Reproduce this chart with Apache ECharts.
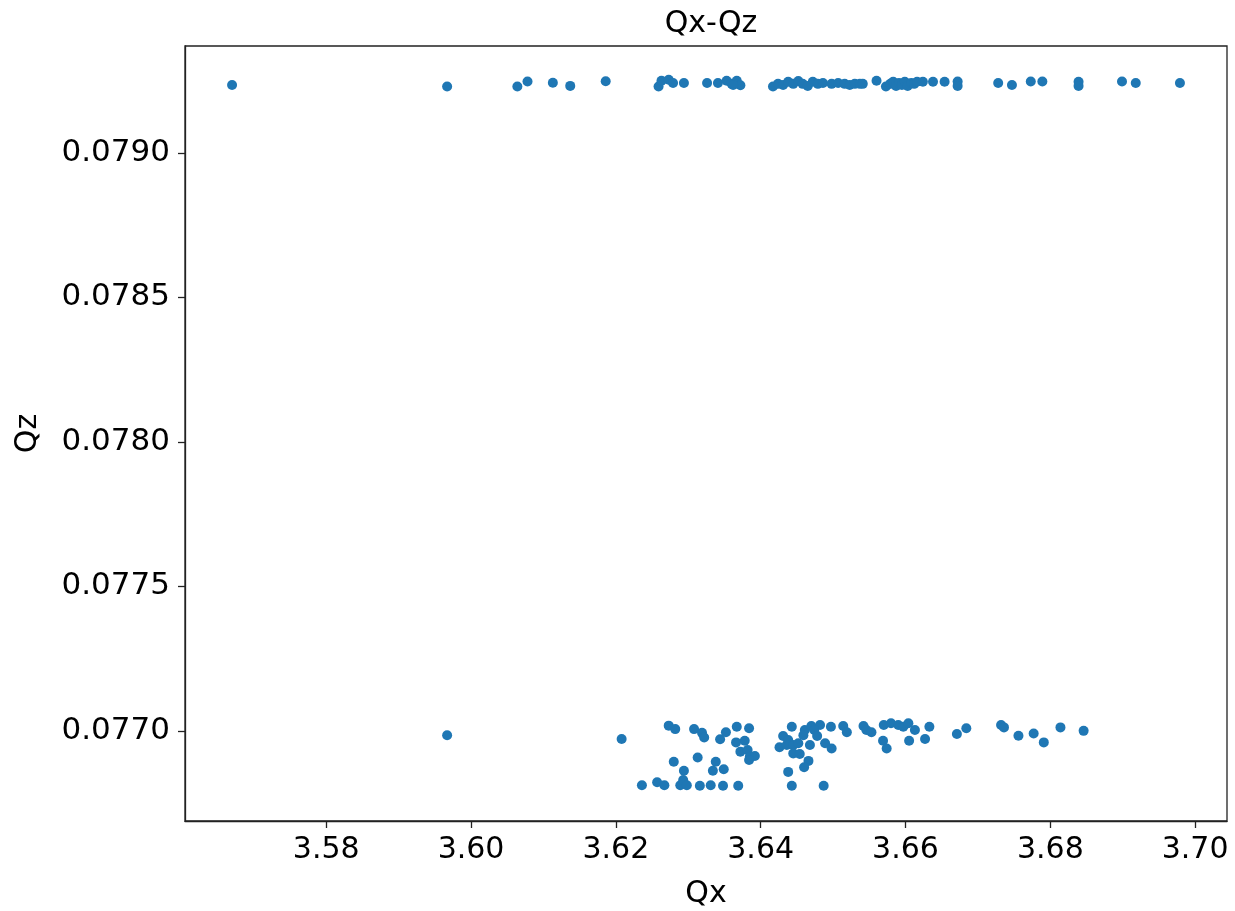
<!DOCTYPE html>
<html>
<head>
<meta charset="utf-8">
<title>Qx-Qz</title>
<script src="https://cdn.jsdelivr.net/npm/echarts@6/dist/echarts.min.js"></script>
<style>
  html, body { margin: 0; padding: 0; background: #fff; }
  #chart { width: 1235px; height: 911px; }
</style>
</head>
<body>
<div id="chart"></div>
<script>
// tick labels
const xTicks = [3.58, 3.60, 3.62, 3.64, 3.66, 3.68, 3.70];
const yTicks = [0.0770, 0.0775, 0.0780, 0.0785, 0.0790];

// upper band (Qz ~ 0.07924)
const qxTop = [3.5670, 3.5967, 3.6064, 3.6078, 3.6113, 3.6137, 3.6186, 3.6259, 3.6263, 3.6273,
  3.6279, 3.6294, 3.6326, 3.6341, 3.6353, 3.6360, 3.6367, 3.6372, 3.6362, 3.6417,
  3.6424, 3.6431, 3.6438, 3.6445, 3.6452, 3.6458, 3.6465, 3.6472, 3.6479, 3.6486,
  3.6498, 3.6507, 3.6516, 3.6523, 3.6530, 3.6537, 3.6541, 3.6560, 3.6573, 3.6579,
  3.6583, 3.6587, 3.6591, 3.6595, 3.6599, 3.6603, 3.6608, 3.6612, 3.6616, 3.6624,
  3.6638, 3.6654, 3.6672, 3.6672, 3.6728, 3.6747, 3.6773, 3.6789, 3.6839, 3.6839,
  3.6899, 3.6918, 3.6979];
const qzTop = [0.079235, 0.079230, 0.079230, 0.079247, 0.079243, 0.079232, 0.079248, 0.079230, 0.079250, 0.079253,
  0.079242, 0.079242, 0.079242, 0.079242, 0.079250, 0.079239, 0.079250, 0.079234, 0.079235, 0.079230,
  0.079239, 0.079235, 0.079246, 0.079239, 0.079249, 0.079239, 0.079232, 0.079246, 0.079239, 0.079242,
  0.079239, 0.079242, 0.079239, 0.079235, 0.079239, 0.079239, 0.079239, 0.079250, 0.079230, 0.079239,
  0.079246, 0.079232, 0.079242, 0.079235, 0.079246, 0.079232, 0.079242, 0.079239, 0.079246, 0.079246,
  0.079246, 0.079246, 0.079247, 0.079232, 0.079242, 0.079235, 0.079247, 0.079247, 0.079246, 0.079232,
  0.079247, 0.079242, 0.079242];

// lower band (Qz ~ 0.0768 - 0.0770)
const qxLow = [3.5967, 3.6208, 3.6273, 3.6282, 3.6308, 3.6319, 3.6322, 3.6280, 3.6294, 3.6236,
  3.6257, 3.6267, 3.6289, 3.6293, 3.6298, 3.6313, 3.6316, 3.6338, 3.6334, 3.6349,
  3.6344, 3.6352, 3.6367, 3.6384, 3.6366, 3.6378, 3.6372, 3.6382, 3.6385, 3.6392,
  3.6384, 3.6331, 3.6348, 3.6369, 3.6443, 3.6431, 3.6438, 3.6426, 3.6436, 3.6445,
  3.6452, 3.6461, 3.6459, 3.6470, 3.6482, 3.6474, 3.6478, 3.6468, 3.6445, 3.6454,
  3.6466, 3.6460, 3.6438, 3.6443, 3.6487, 3.6497, 3.6489, 3.6498, 3.6514, 3.6519,
  3.6542, 3.6546, 3.6553, 3.6569, 3.6574, 3.6570, 3.6580, 3.6590, 3.6597, 3.6604,
  3.6613, 3.6605, 3.6627, 3.6633, 3.6671, 3.6684, 3.6732, 3.6736, 3.6756, 3.6777,
  3.6791, 3.6814, 3.6846];
const qzLow = [0.076985, 0.076972, 0.077018, 0.077006, 0.077006, 0.076993, 0.076977, 0.076893, 0.076862, 0.076812,
  0.076822, 0.076812, 0.076812, 0.076830, 0.076812, 0.076908, 0.076810, 0.076893, 0.076862, 0.076867,
  0.076971, 0.076995, 0.077014, 0.077009, 0.076960, 0.076966, 0.076928, 0.076934, 0.076910, 0.076913,
  0.076899, 0.076812, 0.076810, 0.076810, 0.077014, 0.076982, 0.076968, 0.076943, 0.076951, 0.076951,
  0.076957, 0.077003, 0.076985, 0.077017, 0.077020, 0.077003, 0.076982, 0.076951, 0.076922, 0.076920,
  0.076896, 0.076874, 0.076858, 0.076810, 0.076810, 0.077014, 0.076957, 0.076939, 0.077017, 0.076995,
  0.077017, 0.077003, 0.076995, 0.076966, 0.076939, 0.077020, 0.077026, 0.077020, 0.077014, 0.077026,
  0.077003, 0.076966, 0.076972, 0.077014, 0.076989, 0.077009, 0.077020, 0.077012, 0.076983, 0.076991,
  0.076960, 0.077012, 0.077000];

const points = qxTop.map((x, i) => [x, qzTop[i]])
  .concat(qxLow.map((x, i) => [x, qzLow[i]]));

const chart = echarts.init(document.getElementById('chart'));
const font = 'DejaVu Sans';

chart.setOption({
  backgroundColor: '#fff',
  animation: false,
  title: {
    text: 'Qx-Qz',
    left: 706,
    textAlign: 'center',
    top: 4,
    textStyle: { fontFamily: font, fontSize: 30, fontWeight: 'normal', color: '#000' }
  },
  grid: {
    left: 185, right: 8, top: 46, bottom: 90,
    outerBoundsMode: 'none',
    show: true, borderColor: '#222', borderWidth: 1.3
  },
  xAxis: {
    type: 'value',
    min: 3.5605,
    max: 3.7044,
    name: 'Qx',
    nameLocation: 'middle',
    nameGap: 58,
    nameTextStyle: { fontFamily: font, fontSize: 30, color: '#000' },
    splitLine: { show: false },
    axisLine: { show: true, onZero: false, lineStyle: { color: '#222', width: 1.3 } },
    axisTick: { show: true, length: 7, customValues: xTicks, lineStyle: { color: '#222', width: 1.3 } },
    axisLabel: {
      customValues: xTicks,
      margin: 14,
      fontFamily: font, fontSize: 30, color: '#000',
      formatter: v => v.toFixed(2)
    }
  },
  yAxis: {
    type: 'value',
    min: 0.076688,
    max: 0.079370,
    name: 'Qz',
    nameLocation: 'middle',
    nameGap: 142,
    nameRotate: 90,
    nameTextStyle: { fontFamily: font, fontSize: 30, color: '#000' },
    splitLine: { show: false },
    axisLine: { show: true, onZero: false, lineStyle: { color: '#222', width: 1.3 } },
    axisTick: { show: true, length: 7, customValues: yTicks, lineStyle: { color: '#222', width: 1.3 } },
    axisLabel: {
      customValues: yTicks,
      margin: 15,
      fontFamily: font, fontSize: 31, color: '#000',
      formatter: v => v.toFixed(4)
    }
  },
  series: [{
    type: 'scatter',
    data: points,
    symbolSize: 10,
    itemStyle: { color: '#1f77b4', opacity: 1 }
  }]
});
</script>
</body>
</html>
